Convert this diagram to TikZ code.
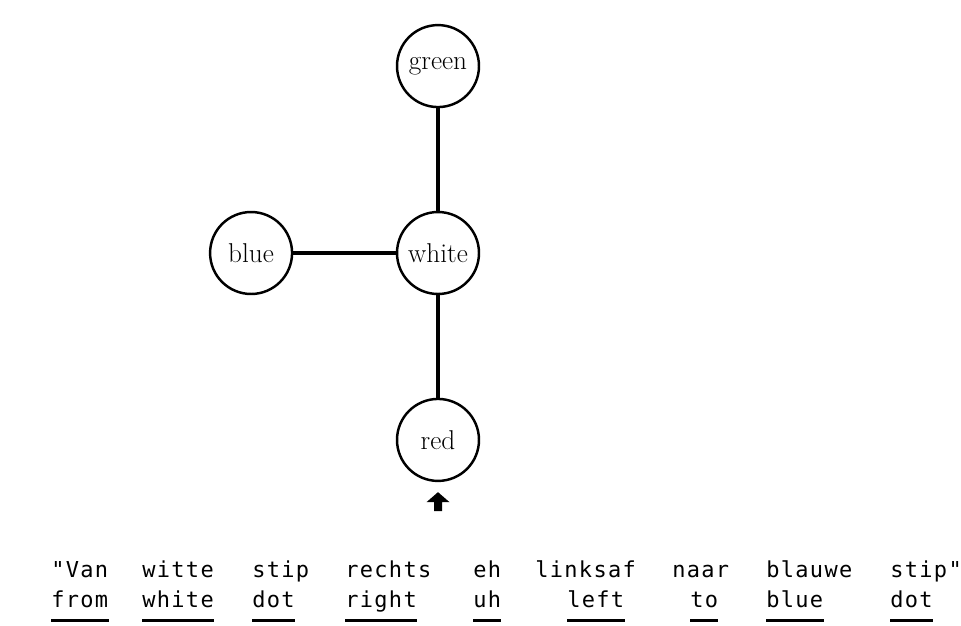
\documentclass[tikz,border=0pt]{standalone}
\usepackage{fontspec}
\usepackage{tikz}
\usetikzlibrary{positioning}
\newfontfamily\typew[LetterSpace=6]{DejaVu Sans Mono}
\tikzset{
    dotnode/.style={
        circle, draw, line width=1.4pt, fill=white, minimum size=1.64cm, inner sep=0pt,
        font=\fontsize{15.5}{17}\selectfont
    },
    link/.style={
        line width=2.2pt, black
    },
    wordnode/.style={
        inner sep=0pt, anchor=base west, font=\typew\fontsize{12.5}{14}\selectfont
    }
}

\begin{document}
\begin{tikzpicture}[x=0.02cm, y=-0.02cm, node distance=2.05cm]
    \useasboundingbox (0,0) rectangle (961,626);

    % --- DE STIPPEN ---
    \node[dotnode] (white) at (438,253) {white};
    \node[dotnode, above=of white] (green) {green};
    \node[dotnode, left=of white] (blue) {blue};
    \node[dotnode, below=of white] (red) {red};

    \draw[link] (white) -- (green);
    \draw[link] (white) -- (blue);
    \draw[link] (white) -- (red);

    % --- STARTPUNT ---
    \coordinate (start) at ([yshift=-0.2cm]red.south);
    \fill (start) -- ++(-0.23cm,-0.2cm) -- ++(0.15cm,0) -- ++(0,-0.18cm)
        -- ++(0.16cm,0) -- ++(0,0.18cm) -- ++(0.15cm,0) -- cycle;

    % --- UITING EN VERTALING ---
    \foreach \xa/\nl/\xb/\en [count=\i] in {51/"Van/51/from, 142/witte/142/white,
            252/stip/252/dot, 345/rechts/345/right, 473/eh/473/uh,
            535/linksaf/567/left, 672/naar/690/to, 766/blauwe/766/blue,
            890/stip"/890/dot}{
        \node[wordnode] (nl\i) at (\xa,577) {\nl};
        \node[wordnode] (en\i) at (\xb,607) {\en};
        \draw[line width=1.3pt] ([yshift=-0.27cm]en\i.base west) -- ([yshift=-0.27cm]en\i.base east);
    }
\end{tikzpicture}
\end{document}
